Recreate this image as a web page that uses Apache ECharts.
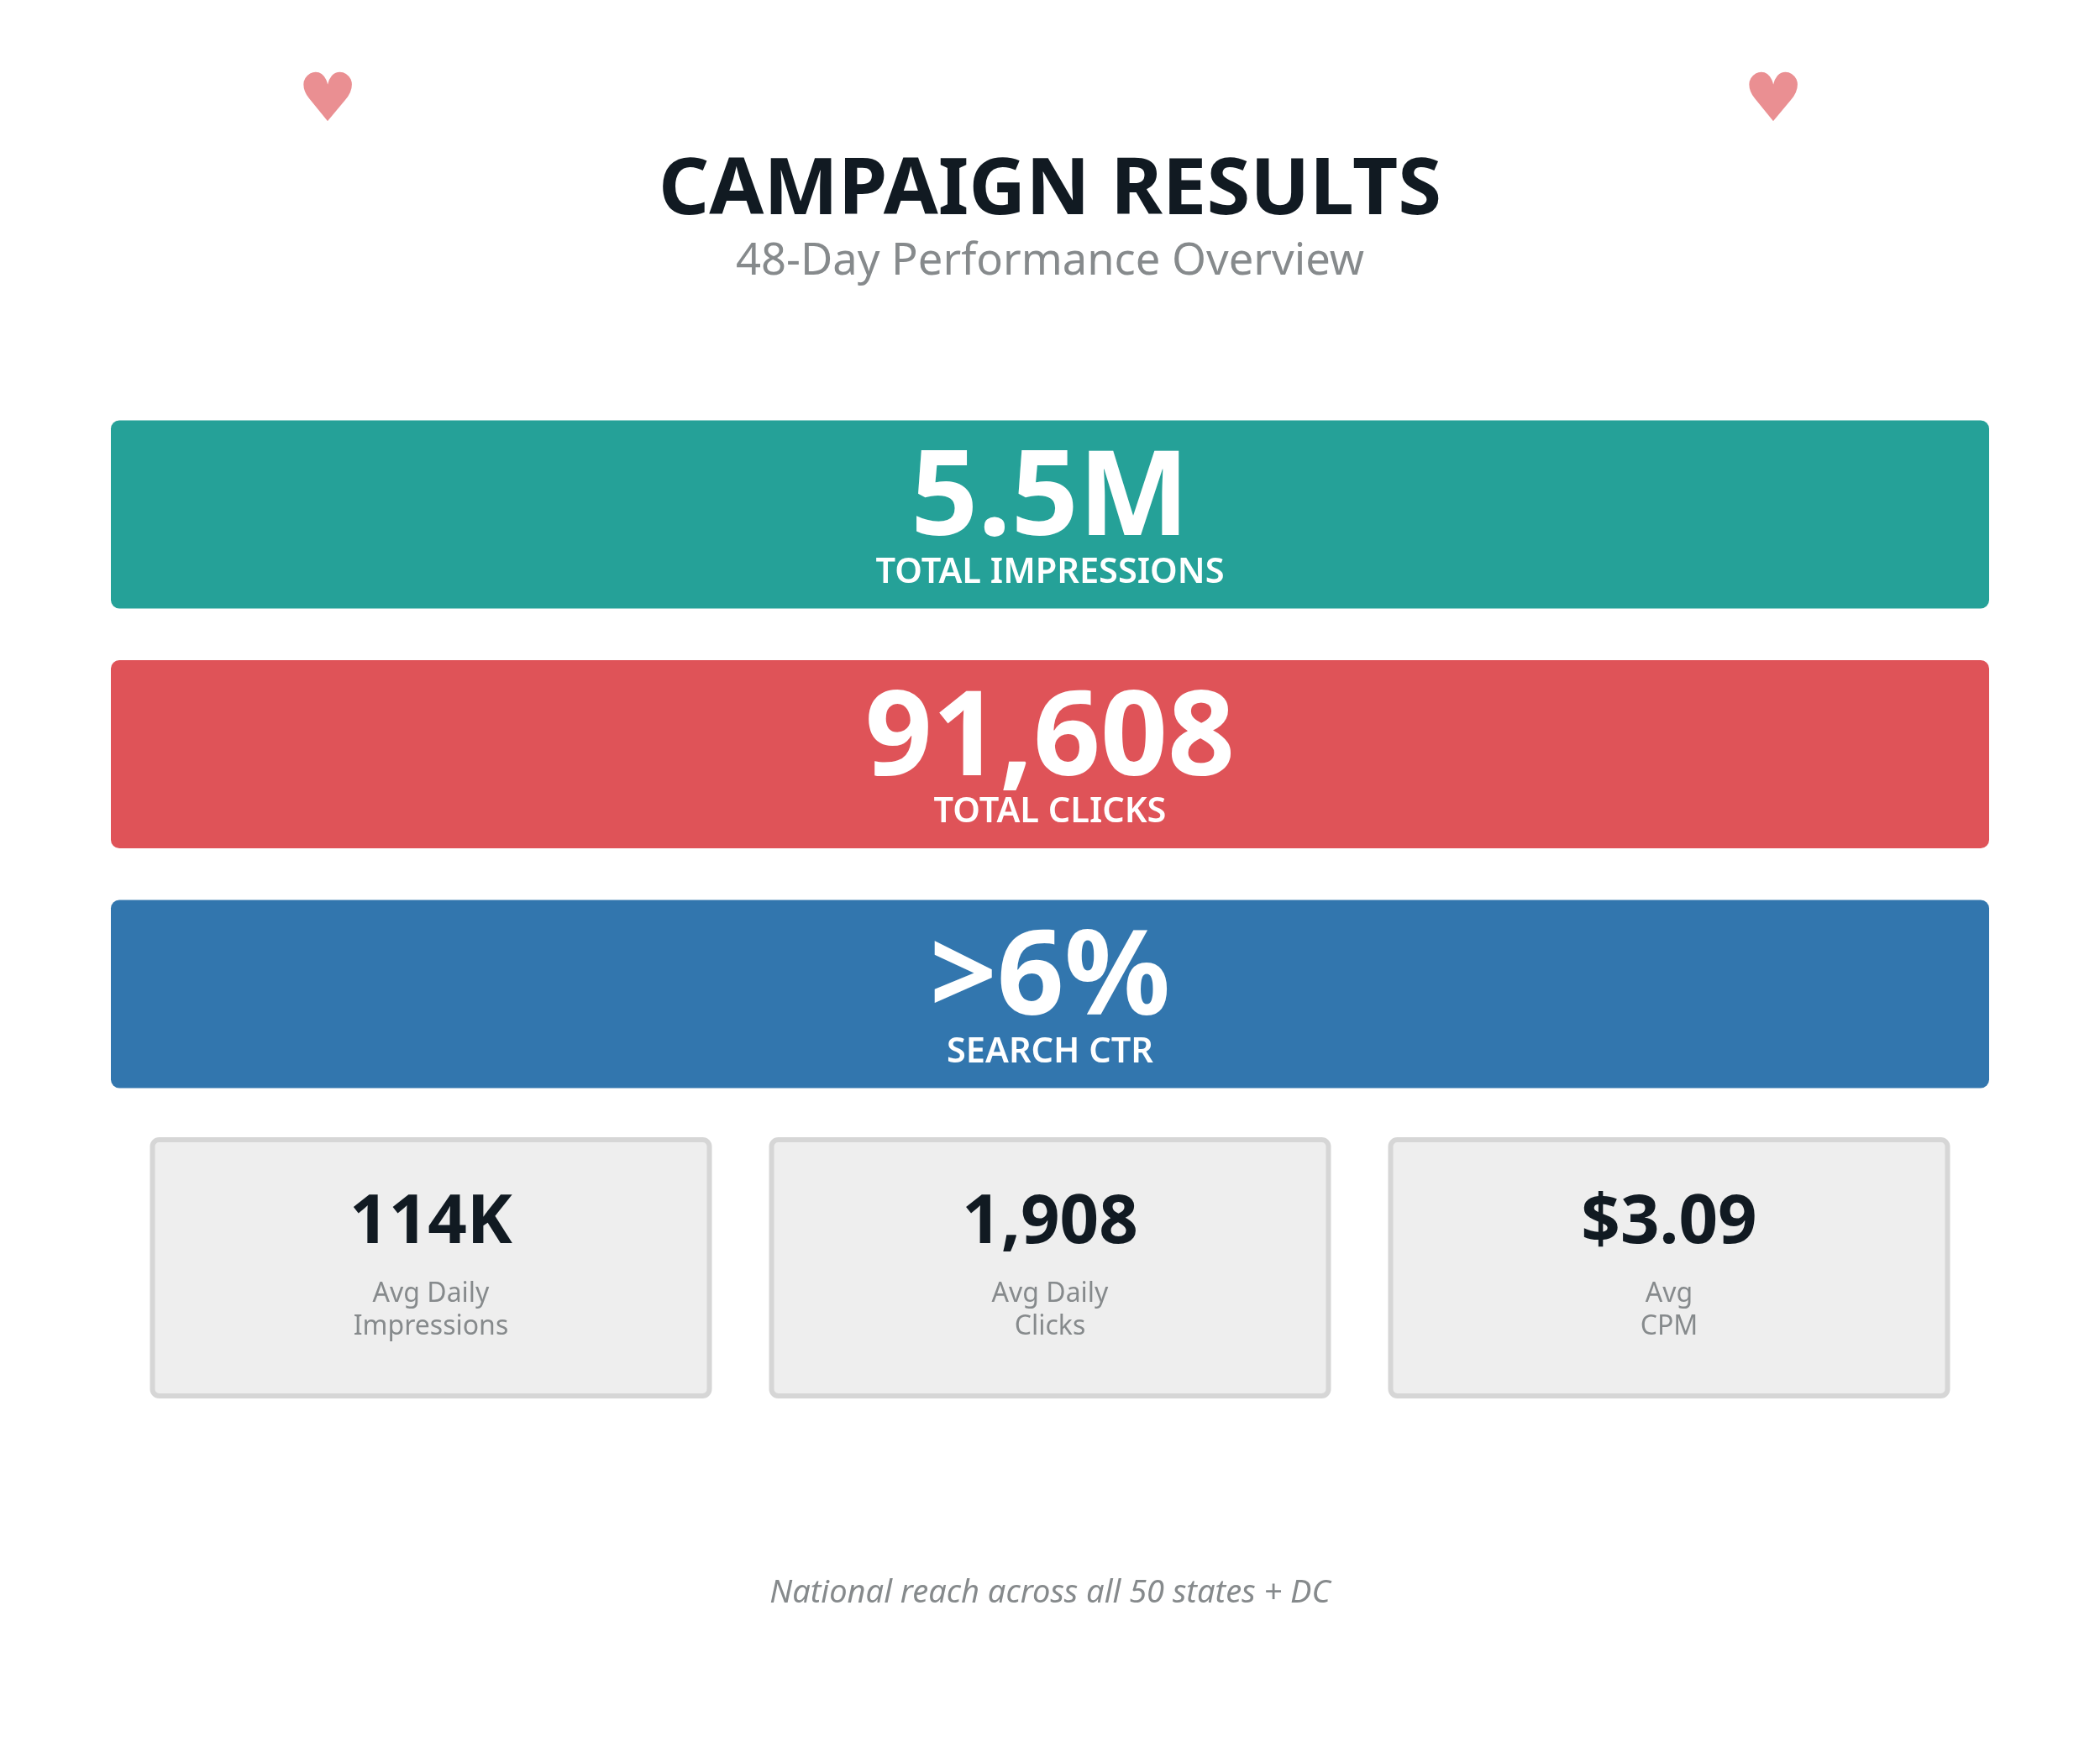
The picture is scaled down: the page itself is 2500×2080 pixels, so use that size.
<!DOCTYPE html>
<html><head><meta charset="utf-8">
<style>html,body{margin:0;padding:0;background:#fff}#c{width:2500px;height:2080px}</style>
<script src="https://cdn.jsdelivr.net/npm/echarts@6/dist/echarts.min.js"></script>
</head><body><div id="c"></div>
<script>
const titleText = 'CAMPAIGN RESULTS';
const subtitleText = '48-Day Performance Overview';
const footerText = 'National reach across all 50 states + DC';
const heroValues = ['5.5M', '91,608', '>6%'];
const heroLabels = ['TOTAL IMPRESSIONS', 'TOTAL CLICKS', 'SEARCH CTR'];
const heroColors = ['#25a198', '#df5358', '#3276ae'];
const cardValues = ['114K', '1,908', '$3.09'];
const cardLabels = ['Avg Daily\nImpressions', 'Avg Daily\nClicks', 'Avg\nCPM'];

const F = '"Noto Sans"';
const els = [];
function txt(x, y, text, size, weight, fill, extra) {
  els.push({type:'text', x, y, style:Object.assign({text, fontFamily:F, fontSize:size, fontWeight:weight, fill, textAlign:'center', textVerticalAlign:'middle'}, extra||{})});
}
[390, 2111].forEach(x => els.push({type:'text', x, y:123, style:{text:'♥', fontFamily:'"DejaVu Sans"', fontSize:80, fill:'#df5358', opacity:0.65, textAlign:'center', textVerticalAlign:'middle'}}));
txt(1250, 228, titleText, 94, 700, '#111a22');
txt(1250, 312, subtitleText, 52.5, 400, '#868a8c');
const heroTop = [500.5, 786, 1071.5];
heroValues.forEach((v, i) => {
  els.push({type:'rect', shape:{x:132, y:heroTop[i], width:2236, height:224, r:10}, style:{fill:heroColors[i]}});
  txt(1250, heroTop[i] + 97, v, 140, 700, '#fff');
  txt(1250, heroTop[i] + 181.5, heroLabels[i], 41.5, 600, '#fff');
});
const cardLeft = [181.5, 918.5, 1655.5];
cardValues.forEach((v, i) => {
  els.push({type:'rect', shape:{x:cardLeft[i], y:1357, width:663, height:305, r:8}, style:{fill:'#eeeeee', stroke:'#d6d6d6', lineWidth:6}});
  txt(cardLeft[i] + 331.5, 1457, v, 81.5, 700, '#111a22');
  txt(cardLeft[i] + 331.5, 1560, cardLabels[i], 32, 400, '#868a8c', {lineHeight:39});
});
txt(1250, 1897, footerText, 38, 400, '#868a8c', {fontStyle:'italic'});

const chart = echarts.init(document.getElementById('c'), null, {width:2500, height:2080, renderer:'canvas'});
chart.setOption({animation:false, backgroundColor:'#ffffff', graphic:{elements:els}});
</script></body></html>
